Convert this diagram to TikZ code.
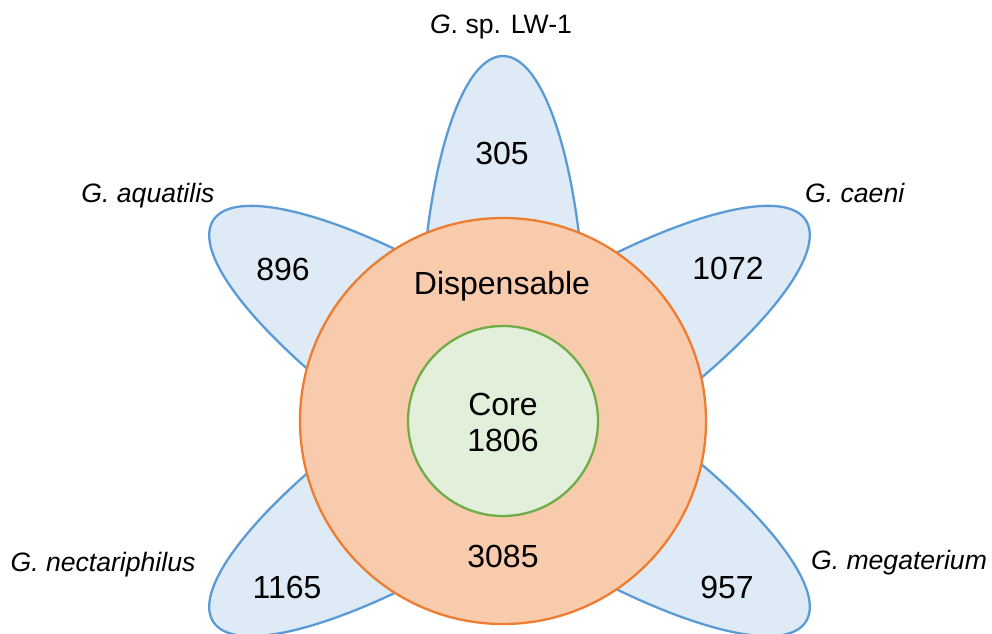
\documentclass[tikz,border=0pt]{standalone}
\usepackage{fontspec}
\setmainfont{Liberation Sans}
\definecolor{petalfill}{HTML}{DEEAF6}
\definecolor{petalline}{HTML}{5B9BD5}
\definecolor{dispfill}{HTML}{F8CBAD}
\definecolor{displine}{HTML}{ED7D31}
\definecolor{corefill}{HTML}{E2EFDA}
\definecolor{coreline}{HTML}{70AD47}
\tikzset{
  petal/.style={fill=petalfill, draw=petalline, line width=2.3pt},
  num/.style={inner sep=0pt, anchor=base, font=\fontsize{32}{38}\selectfont},
  lab/.style={inner sep=0pt, anchor=base, font=\fontsize{26.6}{31}\selectfont},
}
\newcommand{\petalat}[3]{%
  \begin{scope}
    \clip[rotate around={#3:(503,212)}] (503,-1200) rectangle (1803,1600);
    \draw[petal, rotate around={#3:(#1,#2)}] (#1,#2) ellipse [x radius=299pt, y radius=83pt];
  \end{scope}}
\begin{document}
\begin{tikzpicture}[x=1pt,y=1pt]
\useasboundingbox (0,0) rectangle (992,633);
\petalat{503}{278}{90}
\petalat{555}{250}{33}
\petalat{464}{250}{147}
\petalat{464}{174}{213}
\petalat{555}{174}{-33}
\draw[fill=dispfill, draw=displine, line width=2.3pt] (503,212) circle [radius=203pt];
\draw[fill=corefill, draw=coreline, line width=2.3pt] (503,212) circle [radius=95pt];
\node[lab] (lw) at (501,599) {\textit{G}. sp. LW-1};
\node[num] (n305) at (502,468) {305};
\node[lab] (aq) at (148,431) {\textit{G. aquatilis}};
\node[num] (n896) at (283,353) {896};
\node[lab] (ca) at (855,431) {\textit{G. caeni}};
\node[num] (n1072) at (728,353.5) {1072};
\node[num] (disp) at (502,338.5) {Dispensable};
\node[num] (core) at (503,217.5) {Core};
\node[num] (n1806) at (503,181.5) {1806};
\node[num] (n3085) at (503,65.5) {3085};
\node[lab] (ne) at (103,61.3) {\textit{G. nectariphilus}};
\node[num] (n1165) at (287,35) {1165};
\node[lab] (me) at (899,64) {\textit{G. megaterium}};
\node[num] (n957) at (727,35) {957};
\end{tikzpicture}
\end{document}
